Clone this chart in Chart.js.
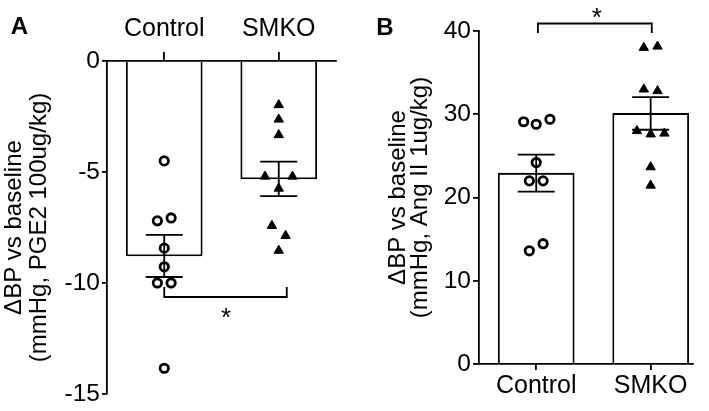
<!DOCTYPE html>
<html>
<head>
<meta charset="utf-8">
<script src="https://cdn.jsdelivr.net/npm/chart.js@4.4.1/dist/chart.umd.min.js"></script>
<style>
  body { margin: 0; background: #fff; }
  #wrap { position: relative; width: 709px; height: 411px; }
  canvas { position: absolute; top: 0; }
</style>
</head>
<body>
<div id="wrap">
  <canvas id="graficoA" width="360" height="411" style="left:0"></canvas>
  <canvas id="graficoB" width="349" height="411" style="left:360px"></canvas>
</div>
<script>
const categorias = ['Control', 'SMKO'];

// Panel A: PGE2 100ug/kg
const mediaA = [-8.78, -5.31];
const semA = [0.95, 0.78];
const controlA = [-4.5, -7.2, -7.07, -8.43, -9.27, -10.0, -10.0, -13.84];
const controlAx = [0, -0.06, 0.06, 0, 0, -0.06, 0.06, 0];
const smkoA = [-1.98, -2.63, -3.33, -5.2, -5.2, -5.74, -7.42, -7.87, -8.54];
const smkoAx = [0, 0, 0, -0.12, 0.12, 0, -0.06, 0.06, 0];
const ticksA = [-15, -10, -5, 0];

// Panel B: Ang II 1ug/kg
const mediaB = [22.92, 30.1];
const semB = [2.22, 1.96];
const controlB = [29.1, 28.8, 29.4, 24.2, 22.0, 22.0, 13.6, 14.45];
const controlBx = [-0.11, 0, 0.12, 0, -0.06, 0.06, -0.06, 0.06];
const smkoB = [38.0, 38.15, 33.0, 32.8, 28.0, 27.6, 27.7, 23.65, 21.45];
const smkoBx = [-0.06, 0.06, -0.06, 0.06, -0.12, 0, 0.12, 0, 0];
const ticksB = [0, 10, 20, 30, 40];

const FAMILIA = '"Liberation Sans", Arial, Helvetica, sans-serif';
Chart.defaults.font.family = FAMILIA;
Chart.defaults.color = '#000';

// barras de error, corchete de significancia, asterisco y letra del panel
const extras = {
  id: 'extras',
  afterDraw(chart, args, opts) {
    const ctx = chart.ctx;
    const x = chart.scales.x, y = chart.scales.y;
    ctx.save();
    ctx.strokeStyle = '#000';
    ctx.fillStyle = '#000';
    ctx.lineWidth = 1.8;

    opts.media.forEach((m, i) => {
      const px = x.getPixelForValue(i);
      const arriba = y.getPixelForValue(m + opts.sem[i]);
      const abajo = y.getPixelForValue(m - opts.sem[i]);
      ctx.beginPath();
      ctx.moveTo(px, arriba); ctx.lineTo(px, abajo);
      ctx.moveTo(px - 18.5, arriba); ctx.lineTo(px + 18.5, arriba);
      ctx.moveTo(px - 18.5, abajo); ctx.lineTo(px + 18.5, abajo);
      ctx.stroke();
    });

    const b = opts.corchete;
    const x1 = x.getPixelForValue(b.x1), x2 = x.getPixelForValue(b.x2);
    const yl = y.getPixelForValue(b.y), ye = y.getPixelForValue(b.yFin);
    ctx.beginPath();
    ctx.moveTo(x1, ye); ctx.lineTo(x1, yl); ctx.lineTo(x2, yl); ctx.lineTo(x2, ye);
    ctx.stroke();

    ctx.font = '26px ' + FAMILIA;
    ctx.textAlign = 'center';
    ctx.textBaseline = 'alphabetic';
    ctx.fillText('*', x.getPixelForValue(b.starX), y.getPixelForValue(b.starY) + 14);

    ctx.font = 'bold 24px ' + FAMILIA;
    ctx.textBaseline = 'middle';
    ctx.fillText(opts.letra, opts.letraX, opts.letraY);
    ctx.restore();
  }
};

function crearGrafico(id, p) {
  const puntosControl = p.control.map((v, i) => ({ x: p.controlX[i], y: v }));
  const puntosSmko = p.smko.map((v, i) => ({ x: 1 + p.smkoX[i], y: v }));
  const barras = p.media.map((v, i) => ({ x: i, y: v }));

  const ctx = document.getElementById(id).getContext('2d');
  return new Chart(ctx, {
    type: 'bar',
    data: {
      datasets: [
        {
          type: 'scatter',
          data: puntosControl,
          pointStyle: 'circle',
          pointRadius: 4.2,
          pointHoverRadius: 4.2,
          borderWidth: 2.8,
          borderColor: '#000',
          backgroundColor: 'rgba(0,0,0,0)',
          order: 1,
        },
        {
          type: 'scatter',
          data: puntosSmko,
          pointStyle: 'triangle',
          pointRadius: 5.4,
          pointHoverRadius: 5.4,
          borderWidth: 1,
          borderColor: '#000',
          backgroundColor: '#000',
          order: 1,
        },
        {
          type: 'bar',
          data: barras,
          barThickness: 76,
          backgroundColor: '#fff',
          borderColor: '#000',
          borderWidth: 1.8,
          order: 2,
        },
      ],
    },
    options: {
      responsive: false,
      animation: false,
      devicePixelRatio: 1,
      layout: { padding: p.padding },
      plugins: {
        legend: { display: false },
        tooltip: { enabled: false },
        extras: {
          media: p.media, sem: p.sem, corchete: p.corchete,
          letra: p.letra, letraX: p.letraX, letraY: p.letraY,
        },
      },
      scales: {
        x: {
          type: 'linear',
          position: p.xPos,
          min: -0.5,
          max: p.xMax,
          offset: false,
          afterBuildTicks: s => { s.ticks = categorias.map((c, i) => ({ value: i })); },
          afterFit: s => { s.height = p.xAlto; },
          ticks: {
            callback: v => categorias[v],
            font: { size: 25 },
            color: '#000',
            padding: p.xPad,
            maxRotation: 0,
            autoSkip: false,
          },
          grid: { offset: false, drawOnChartArea: false, color: '#000', lineWidth: 1.8, tickLength: p.xTick },
          border: { color: '#000', width: 1.8 },
        },
        y: {
          type: 'linear',
          min: p.ticks[0],
          max: p.ticks[p.ticks.length - 1],
          afterBuildTicks: s => { s.ticks = p.ticks.map(v => ({ value: v })); },
          afterFit: s => { s.width = p.yAncho; },
          ticks: { font: { size: 24.5 }, color: '#000', padding: 2 },
          grid: { drawOnChartArea: false, color: '#000', lineWidth: 1.8, tickLength: p.yTick },
          border: { color: '#000', width: 1.8 },
          title: {
            display: true,
            text: p.titulo,
            color: '#000',
            font: { size: 24, lineHeight: p.interlineado },
            padding: { top: p.tituloPad, bottom: 0 },
          },
        },
      },
    },
    plugins: [extras],
  });
}

crearGrafico('graficoA', {
  media: mediaA, sem: semA,
  control: controlA, controlX: controlAx,
  smko: smkoA, smkoX: smkoAx,
  ticks: ticksA,
  titulo: ['\u0394BP vs baseline', '(mmHg, PGE2 100ug/kg)'],
  interlineado: 25 / 24, tituloPad: 2,
  padding: { left: 0, top: 0, right: 24, bottom: 17 },
  xPos: 'top', xMax: 1.5, xAlto: 61, xPad: 8, xTick: 9,
  yAncho: 107, yTick: 5,
  corchete: { x1: 0, x2: 1.07, y: -10.63, yFin: -10.18, starX: 0.54, starY: -11.3 },
  letra: 'A', letraX: 19.5, letraY: 27,
});

crearGrafico('graficoB', {
  media: mediaB, sem: semB,
  control: controlB, controlX: controlBx,
  smko: smkoB, smkoX: smkoBx,
  ticks: ticksB,
  titulo: ['\u0394BP vs baseline', '(mmHg, Ang II 1ug/kg)'],
  interlineado: 22 / 24, tituloPad: 27,
  padding: { left: 0, top: 31, right: 16, bottom: 0 },
  xPos: 'bottom', xMax: 1.37, xAlto: 47, xPad: 1, xTick: 6,
  yAncho: 119, yTick: 6,
  corchete: { x1: 0.015, x2: 1.01, y: 40.9, yFin: 39.76, starX: 0.53, starY: 42.3 },
  letra: 'B', letraX: 25, letraY: 28,
});
</script>
</body>
</html>
